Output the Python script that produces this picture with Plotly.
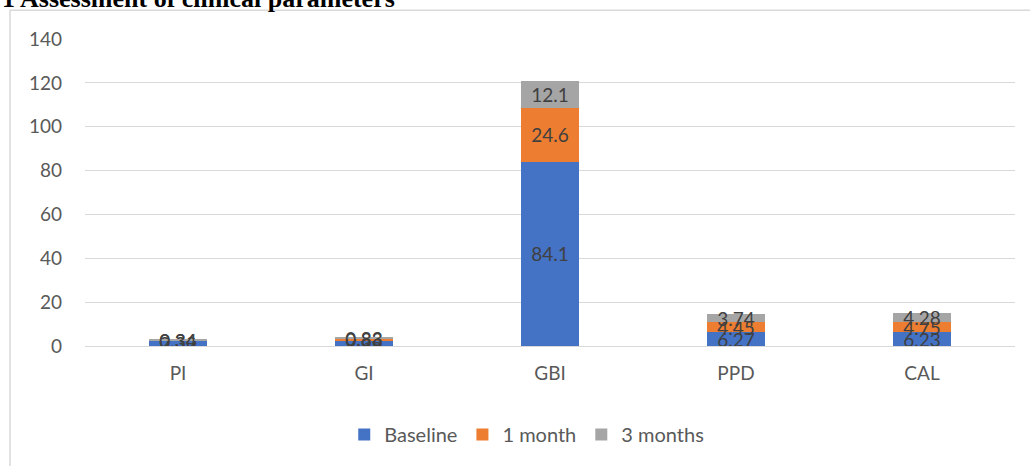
import plotly.graph_objects as go

# Clinical parameters and mean scores at each visit
categories = ["PI", "GI", "GBI", "PPD", "CAL"]
baseline = [2.32, 2.35, 84.1, 6.27, 6.23]
one_month = [0.36, 0.88, 24.6, 4.45, 4.75]
three_months = [0.34, 0.83, 12.1, 3.74, 4.28]
series_names = ["Baseline", "1 month", "3 months"]
y_ticks = [0, 20, 40, 60, 80, 100, 120, 140]

colors = ["#4472C4", "#ED7D31", "#A5A5A5"]
font_family = "Lato, 'Open Sans', sans-serif"

fig = go.Figure()
for name, vals, col in zip(series_names, [baseline, one_month, three_months], colors):
    fig.add_trace(go.Bar(
        name=name,
        x=categories,
        y=vals,
        marker=dict(color=col, line=dict(width=0)),
        text=[f"{v:g}" for v in vals],
        textposition="inside",
        insidetextanchor="middle",
        constraintext="none",
        textangle=0,
        textfont=dict(family=font_family, size=19, color="#404040"),
    ))

W, H = 1030, 466
L, R, T, B = 85, 15, 39, 116
pw, ph = W - L - R, H - T - B

def px_x(p):
    return (p - L) / pw

def px_y(p):
    return (H - B - p) / ph

fig.update_layout(
    width=W, height=H,
    barmode="stack",
    bargap=0.69,
    margin=dict(l=L, r=R, t=T, b=B),
    paper_bgcolor="white",
    plot_bgcolor="white",
    font=dict(family=font_family, color="#595959", size=19),
    showlegend=True,
    legend=dict(
        orientation="h",
        x=0.475, xanchor="center",
        y=px_y(420), yanchor="top",
        font=dict(size=20, color="#595959"),
        traceorder="normal",
        itemwidth=30,
    ),
    xaxis=dict(
        showgrid=False,
        showline=False,
        ticks="",
        ticklabelstandoff=14,
        tickfont=dict(size=19, color="#595959"),
    ),
    yaxis=dict(
        range=[0, 140],
        tickvals=y_ticks,
        showgrid=True,
        gridcolor="#d9d9d9",
        gridwidth=1,
        zeroline=True,
        zerolinecolor="#d9d9d9",
        zerolinewidth=1,
        showline=False,
        ticks="",
        ticklabelstandoff=22,
        tickfont=dict(size=19, color="#595959"),
    ),
    shapes=[
        dict(
            type="rect", xref="paper", yref="paper",
            x0=px_x(10), x1=px_x(1060), y0=px_y(520), y1=px_y(10),
            line=dict(color="#d9d9d9", width=1.5),
            fillcolor="rgba(0,0,0,0)",
            layer="below",
        )
    ],
    annotations=[
        dict(
            text="1 Assessment of clinical parameters",
            xref="paper", yref="paper",
            x=px_x(0), y=px_y(15),
            xanchor="left", yanchor="bottom",
            showarrow=False,
            font=dict(family="'Liberation Serif', 'Times New Roman', serif",
                      size=26, color="#000000", weight="bold"),
        )
    ],
)

fig.write_html("out.html")
